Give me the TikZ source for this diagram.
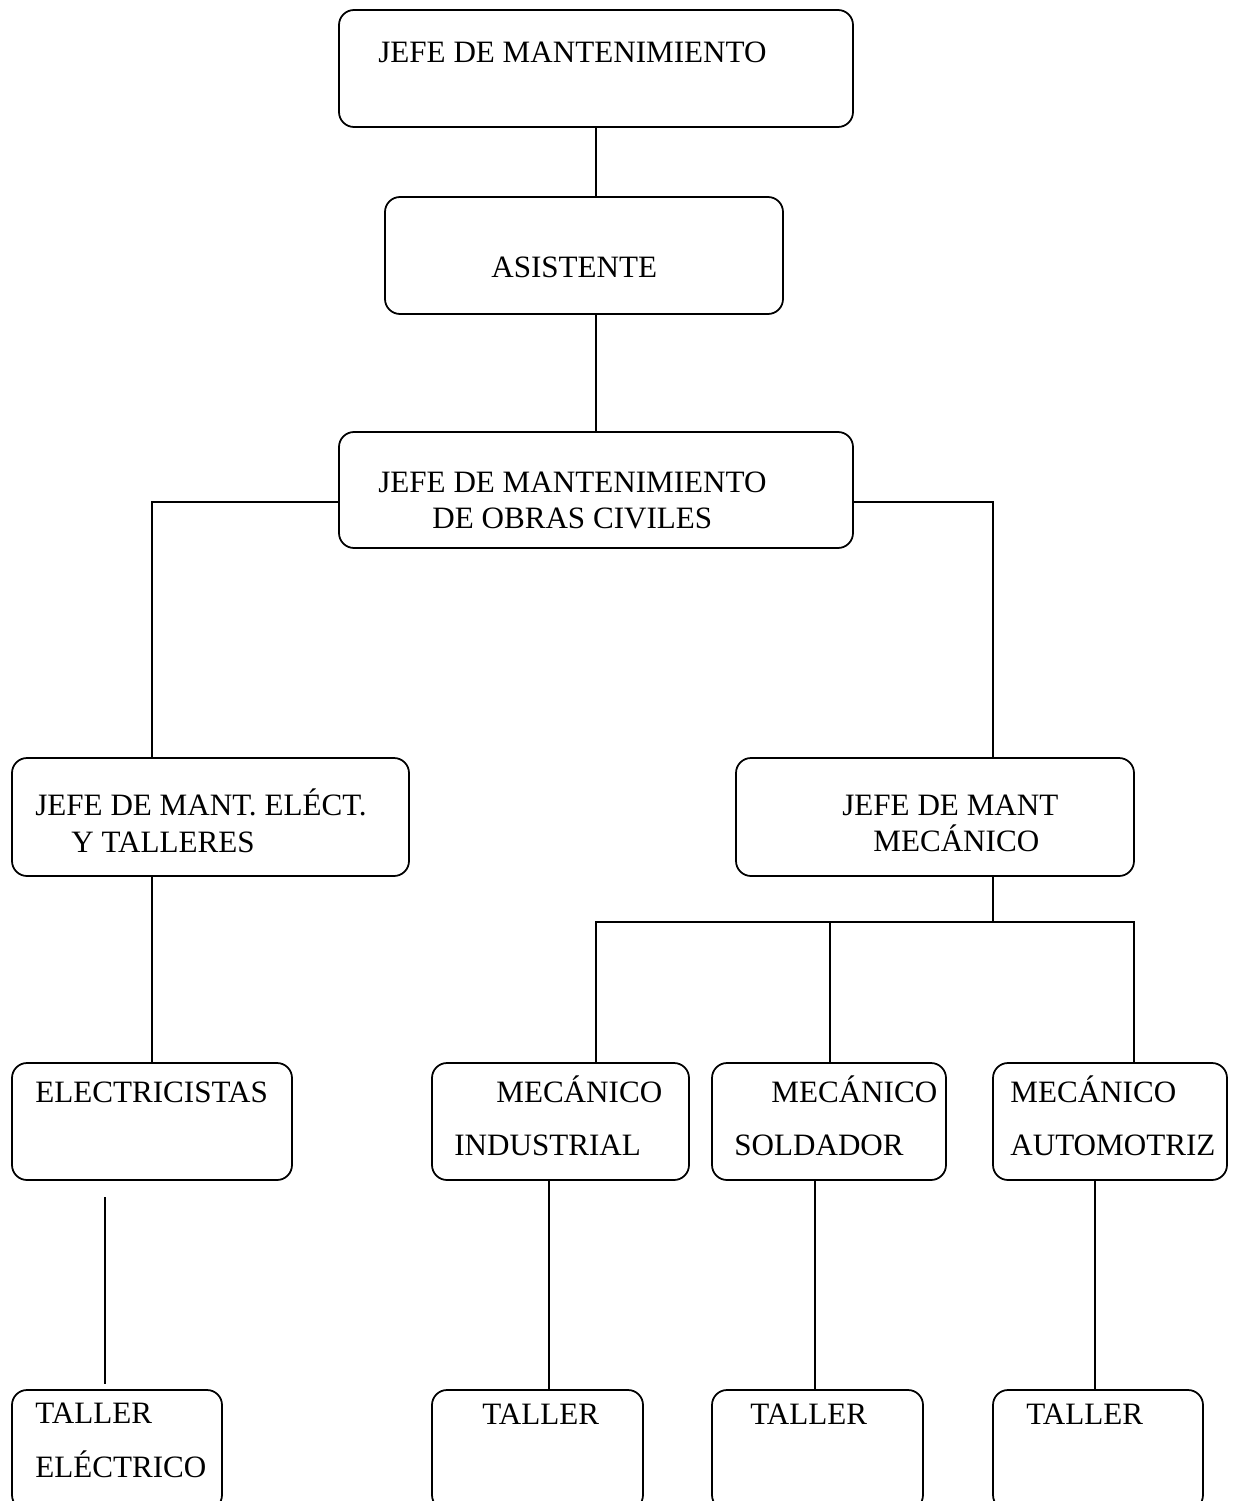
\documentclass[tikz,border=0pt]{standalone}
\usepackage{fontspec}
\setmainfont{Liberation Serif}
\newcommand\chartfont{\fontsize{17.7pt}{22pt}\selectfont}
\tikzset{
  orgbox/.style 2 args = {shape=rectangle, rounded corners=0.3cm,
                          draw, line width=1pt, inner sep=0pt,
                          minimum width=#1*0.02cm, minimum height=#2*0.02cm},
  lbl/.style           = {anchor=base west, inner sep=0pt, font=\chartfont},
  link/.style          = {draw, line width=1pt}
}
\begin{document}
\begin{tikzpicture}[x=0.02cm, y=-0.02cm]
  \useasboundingbox (0,0) rectangle (1236,1501);
  \clip (0,0) rectangle (1236,1501);
  % boxes
  \node [orgbox={514}{117}] (jefe)  at (596,68.5)    {};
  \node [orgbox={398}{117}] (asis)  at (584,255.5)   {};
  \node [orgbox={514}{116}] (civ)   at (596,490)     {};
  \node [orgbox={397}{118}] (elec)  at (210.5,817)   {};
  \node [orgbox={398}{118}] (mec)   at (935,817)     {};
  \node [orgbox={280}{117}] (elc)   at (152,1121.5)  {};
  \node [orgbox={257}{117}] (ind)   at (560.5,1121.5){};
  \node [orgbox={234}{117}] (sol)   at (829,1121.5)  {};
  \node [orgbox={234}{117}] (aut)   at (1110,1121.5) {};
  \node [orgbox={210}{120}] (telc)  at (117,1450)    {};
  \node [orgbox={211}{120}] (tind)  at (537.5,1450)  {};
  \node [orgbox={211}{120}] (tsol)  at (817.5,1450)  {};
  \node [orgbox={210}{120}] (taut)  at (1098,1450)   {};
  % texts
  \node [lbl] (t1)  at (378,62)    {JEFE DE MANTENIMIENTO};
  \node [lbl] (t2)  at (491,277)   {ASISTENTE};
  \node [lbl] (t3a) at (378,492)   {JEFE DE MANTENIMIENTO};
  \node [lbl] (t3b) at (432,528)   {DE OBRAS CIVILES};
  \node [lbl] (t4a) at (35,815)    {JEFE DE MANT. ELÉCT.};
  \node [lbl] (t4b) at (71,852)    {Y TALLERES};
  \node [lbl] (t5a) at (842,815)   {JEFE DE MANT};
  \node [lbl] (t5b) at (873,851)   {MECÁNICO};
  \node [lbl] (t6)  at (35,1102)   {ELECTRICISTAS};
  \node [lbl] (t7a) at (496,1102)  {MECÁNICO};
  \node [lbl] (t7b) at (454,1155)  {INDUSTRIAL};
  \node [lbl] (t8a) at (771,1102)  {MECÁNICO};
  \node [lbl] (t8b) at (734,1155)  {SOLDADOR};
  \node [lbl] (t9a) at (1010,1102) {MECÁNICO};
  \node [lbl] (t9b) at (1010,1155) {AUTOMOTRIZ};
  \node [lbl] (t10a) at (35,1423)  {TALLER};
  \node [lbl] (t10b) at (35,1477)  {ELÉCTRICO};
  \node [lbl] (t11) at (482,1424)  {TALLER};
  \node [lbl] (t12) at (750,1424)  {TALLER};
  \node [lbl] (t13) at (1026,1424) {TALLER};
  % bends
  \coordinate (bl) at (152,502);
  \coordinate (br) at (993,502);
  \coordinate (b1) at (596,922);
  \coordinate (b2) at (830,922);
  \coordinate (b3) at (1134,922);
  \coordinate (e1) at (105,1197);
  \coordinate (e2) at (105,1384);
  \coordinate (d1) at (549,0);
  \coordinate (d2) at (815,0);
  \coordinate (d3) at (1095,0);
  % connectors
  \path [link] (jefe.south) -- (jefe.south |- asis.north);
  \path [link] (civ.north) -- (civ.north |- asis.south);
  \path [link] (civ.west |- bl) -- (bl) -- (bl |- elec.north);
  \path [link] (civ.east |- br) -- (br) -- (br |- mec.north);
  \path [link] (elc.north) -- (elc.north |- elec.south);
  \path [link] (br |- mec.south) -- (br |- b1);
  \path [link] (b1 |- ind.north) -- (b1) -- (b3) -- (b3 |- aut.north);
  \path [link] (b2) -- (b2 |- sol.north);
  \path [link] (e1) -- (e2);
  \path [link] (d1 |- ind.south) -- (d1 |- tind.north);
  \path [link] (d2 |- sol.south) -- (d2 |- tsol.north);
  \path [link] (d3 |- aut.south) -- (d3 |- taut.north);
\end{tikzpicture}
\end{document}
